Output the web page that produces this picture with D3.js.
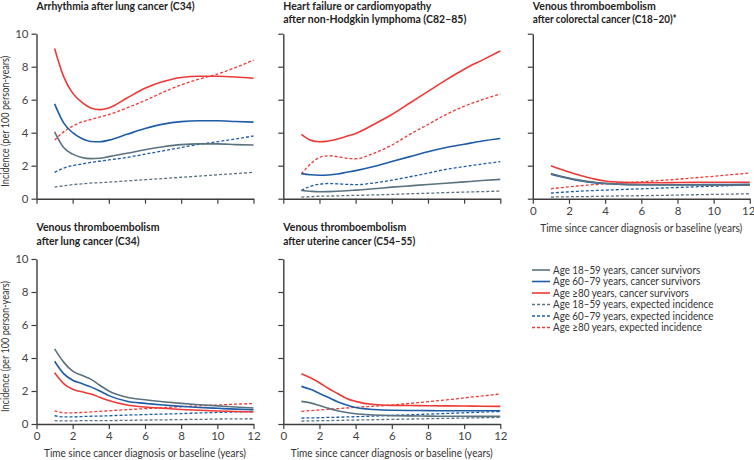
<!DOCTYPE html>
<html><head><meta charset="utf-8">
<script src="https://cdn.jsdelivr.net/npm/d3@7"></script>
<style>
body{margin:0;background:#fff;}
svg{display:block;}
text{font-family:"Lato",sans-serif;}
</style></head>
<body><svg id="chart" width="754" height="460"></svg>
<script>
// ---- data ----
const timePoints = [1,1.5,2,2.5,3,3.5,4,5,6,7,8,9,10,11,12];
const xTicks = [0,2,4,6,8,10,12];
const yTicks = [0,2,4,6,8,10];
const seriesNames = [
  "Age 18–59 years, cancer survivors",
  "Age 60–79 years, cancer survivors",
  "Age ≥80 years, cancer survivors",
  "Age 18–59 years, expected incidence",
  "Age 60–79 years, expected incidence",
  "Age ≥80 years, expected incidence"
];
const panelTitles = [
  ["Arrhythmia after lung cancer (C34)"],
  ["Heart failure or cardiomyopathy","after non-Hodgkin lymphoma (C82–85)"],
  ["Venous thromboembolism","after colorectal cancer (C18–20)*"],
  ["Venous thromboembolism","after lung cancer (C34)"],
  ["Venous thromboembolism","after uterine cancer (C54–55)"]
];
const yAxisTitle = "Incidence (per 100 person-years)";
const xAxisTitle = "Time since cancer diagnosis or baseline (years)";
// Arrhythmia after lung cancer
const arrLung_18_59   = [4.05,3.1,2.7,2.5,2.43,2.45,2.55,2.75,2.97,3.15,3.28,3.32,3.32,3.28,3.25];
const arrLung_60_79   = [5.75,4.6,4.0,3.65,3.47,3.45,3.55,3.9,4.25,4.52,4.67,4.72,4.72,4.68,4.64];
const arrLung_80      = [9.1,7.4,6.4,5.85,5.5,5.4,5.5,6.1,6.7,7.1,7.35,7.42,7.42,7.38,7.3];
const arrLung_exp18_59= [0.7,0.78,0.85,0.9,0.95,0.97,1.0,1.08,1.15,1.22,1.3,1.37,1.45,1.52,1.6];
const arrLung_exp60_79= [1.6,1.85,2.0,2.1,2.2,2.27,2.35,2.5,2.7,2.9,3.1,3.3,3.45,3.62,3.8];
const arrLung_exp80   = [3.55,4.05,4.4,4.65,4.8,4.95,5.1,5.5,5.95,6.45,6.9,7.25,7.55,7.95,8.4];
// Heart failure after NHL
const hfNhl_18_59   = [0.5,0.45,0.42,0.43,0.45,0.48,0.52,0.6,0.7,0.78,0.86,0.94,1.02,1.1,1.17];
const hfNhl_60_79   = [1.52,1.45,1.42,1.44,1.5,1.6,1.7,1.95,2.25,2.55,2.85,3.1,3.3,3.5,3.65];
const hfNhl_80      = [3.9,3.55,3.45,3.5,3.62,3.78,3.95,4.5,5.1,5.8,6.5,7.2,7.85,8.4,8.95];
const hfNhl_exp18_59= [0.1,0.12,0.15,0.16,0.17,0.19,0.2,0.23,0.26,0.3,0.33,0.37,0.4,0.43,0.46];
const hfNhl_exp60_79= [0.5,0.75,0.88,0.92,0.9,0.87,0.85,0.95,1.12,1.33,1.55,1.78,1.95,2.1,2.25];
const hfNhl_exp80   = [1.5,2.1,2.5,2.6,2.55,2.45,2.42,2.75,3.25,3.9,4.5,5.1,5.6,6.0,6.35];
// VTE after colorectal cancer
const vteCrc_18_59   = [1.52,1.38,1.25,1.14,1.05,0.98,0.93,0.87,0.85,0.84,0.83,0.83,0.82,0.82,0.82];
const vteCrc_60_79   = [1.48,1.35,1.22,1.1,1.02,0.96,0.92,0.87,0.85,0.85,0.85,0.85,0.86,0.86,0.87];
const vteCrc_80      = [2.0,1.8,1.62,1.45,1.3,1.17,1.07,0.99,0.97,0.97,0.98,0.99,1.0,1.0,1.0];
const vteCrc_exp18_59= [0.1,0.11,0.12,0.13,0.13,0.14,0.15,0.17,0.18,0.2,0.22,0.24,0.26,0.28,0.3];
const vteCrc_exp60_79= [0.34,0.38,0.42,0.45,0.48,0.5,0.52,0.56,0.6,0.64,0.68,0.72,0.76,0.8,0.85];
const vteCrc_exp80   = [0.6,0.66,0.72,0.77,0.82,0.86,0.9,0.97,1.02,1.1,1.18,1.27,1.36,1.46,1.56];
// VTE after lung cancer
const vteLung_18_59   = [4.55,3.75,3.2,2.95,2.72,2.35,2.0,1.62,1.47,1.35,1.25,1.17,1.1,1.03,0.97];
const vteLung_60_79   = [3.8,3.05,2.65,2.45,2.25,2.0,1.72,1.38,1.25,1.15,1.07,1.0,0.95,0.9,0.86];
const vteLung_80      = [3.1,2.45,2.1,1.95,1.82,1.62,1.42,1.15,1.03,0.95,0.88,0.83,0.79,0.76,0.73];
const vteLung_exp18_59= [0.2,0.19,0.19,0.2,0.2,0.21,0.21,0.22,0.24,0.25,0.27,0.28,0.3,0.31,0.32];
const vteLung_exp60_79= [0.5,0.43,0.43,0.45,0.47,0.48,0.5,0.54,0.57,0.6,0.63,0.67,0.7,0.73,0.76];
const vteLung_exp80   = [0.8,0.68,0.68,0.7,0.73,0.77,0.8,0.87,0.93,0.99,1.05,1.1,1.15,1.2,1.24];
// VTE after uterine cancer
const vteUt_18_59   = [1.37,1.28,1.12,0.95,0.8,0.7,0.62,0.55,0.51,0.49,0.48,0.47,0.47,0.46,0.46];
const vteUt_60_79   = [2.28,2.1,1.85,1.6,1.35,1.15,1.0,0.88,0.83,0.82,0.81,0.8,0.8,0.8,0.8];
const vteUt_80      = [3.05,2.8,2.5,2.15,1.85,1.55,1.37,1.18,1.13,1.12,1.11,1.1,1.09,1.08,1.07];
const vteUt_exp18_59= [0.18,0.19,0.2,0.21,0.22,0.23,0.24,0.26,0.28,0.3,0.32,0.34,0.36,0.38,0.4];
const vteUt_exp60_79= [0.36,0.37,0.38,0.4,0.41,0.43,0.44,0.48,0.52,0.56,0.6,0.64,0.68,0.72,0.76];
const vteUt_exp80   = [0.77,0.81,0.85,0.89,0.93,0.97,1.01,1.08,1.15,1.25,1.35,1.46,1.58,1.7,1.82];

// series per panel, order matches seriesNames
const panelSeries = [
  [arrLung_18_59,arrLung_60_79,arrLung_80,arrLung_exp18_59,arrLung_exp60_79,arrLung_exp80],
  [hfNhl_18_59,hfNhl_60_79,hfNhl_80,hfNhl_exp18_59,hfNhl_exp60_79,hfNhl_exp80],
  [vteCrc_18_59,vteCrc_60_79,vteCrc_80,vteCrc_exp18_59,vteCrc_exp60_79,vteCrc_exp80],
  [vteLung_18_59,vteLung_60_79,vteLung_80,vteLung_exp18_59,vteLung_exp60_79,vteLung_exp80],
  [vteUt_18_59,vteUt_60_79,vteUt_80,vteUt_exp18_59,vteUt_exp60_79,vteUt_exp80]
];

// ---- styles / layout ----
const colors = ["#5b7280","#1f5ca8","#ee3a36","#5b7280","#1f5ca8","#ee3a36"];
const dashed = [false,false,false,true,true,true];
const drawOrder = [3,4,5,1,0,2];
const panelW = 217, panelH = 165;
const layout = [
  {x:36.5, y:33.7, yLab:true,  xLab:false, xTitle:false},
  {x:283.3,y:33.7, yLab:false, xLab:false, xTitle:false},
  {x:532.8,y:33.7, yLab:false, xLab:true,  xTitle:true},
  {x:36.5, y:259,  yLab:true,  xLab:true,  xTitle:true},
  {x:283.3,y:259,  yLab:false, xLab:true,  xTitle:true}
];
const titleYs = [[9.5],[9.5,22.5],[9.5,22.5],[231,245],[231,245]];
const titleWidths = [[158],[148,183],[123,144],[123,103],[123,132]];

const svg = d3.select("#chart");
const axisColor = "#3d3d3d";

function fitWidth(sel, w){
  sel.attr("textLength", w).attr("lengthAdjust","spacingAndGlyphs");
}

layout.forEach((L,pi)=>{
  const x = d3.scaleLinear().domain([0,12]).range([L.x, L.x+panelW]);
  const y = d3.scaleLinear().domain([0,10]).range([L.y+panelH, L.y]);
  const g = svg.append("g");

  // titles
  panelTitles[pi].forEach((t,i)=>{
    const tt = g.append("text").attr("x",L.x).attr("y",titleYs[pi][i])
      .attr("font-size",10.5).attr("font-weight","bold").attr("fill","#222").text(t);
    fitWidth(tt, titleWidths[pi][i]);
  });

  // axes
  const ax = g.append("g").attr("transform",`translate(0,${L.y+panelH})`)
    .call(d3.axisBottom(x).tickValues(xTicks).tickSize(5).tickSizeOuter(0).tickPadding(3)
      .tickFormat(L.xLab? d3.format("d") : ()=>""));
  const ay = g.append("g").attr("transform",`translate(${L.x},0)`)
    .call(d3.axisLeft(y).tickValues(yTicks).tickSize(5).tickSizeOuter(0).tickPadding(3)
      .tickFormat(L.yLab? d3.format("d") : ()=>""));
  [ax,ay].forEach(a=>{
    a.select(".domain").attr("stroke",axisColor).attr("stroke-width",1.4);
    a.selectAll(".tick line").attr("stroke",axisColor).attr("stroke-width",1.2);
    a.selectAll(".tick text").attr("fill","#444").attr("font-size",11.5)
      .attr("font-family",'"Lato",sans-serif');
  });
  // keep the last x label of the right-most panel inside the picture
  if(L.x + panelW > 740){
    ax.selectAll(".tick text").filter(d=>d===12).attr("text-anchor","end").attr("dx","5");
  }

  if(L.yLab){
    const yt = g.append("text").attr("transform",`translate(9,${L.y+panelH/2+5}) rotate(-90)`)
      .attr("text-anchor","middle").attr("font-size",10.5).attr("fill","#333")
      .text(yAxisTitle);
    fitWidth(yt, 131);
  }
  if(L.xTitle){
    const xt = g.append("text").attr("x",L.x+panelW/2).attr("y",L.y+panelH+33)
      .attr("text-anchor","middle").attr("font-size",10.5).attr("fill","#333")
      .text(xAxisTitle);
    fitWidth(xt, 202);
  }

  const line = d3.line().x((d,i)=>x(timePoints[i])).y(d=>y(d)).curve(d3.curveMonotoneX);
  drawOrder.forEach(si=>{
    g.append("path").datum(panelSeries[pi][si])
      .attr("fill","none").attr("stroke",colors[si])
      .attr("stroke-width", dashed[si]?1.3:1.6)
      .attr("stroke-dasharray", dashed[si]?"3,2":null)
      .attr("d",line);
  });
});

// legend
const legX = 532, legY0 = 270, legDy = 11.5;
const legTexts = [];
seriesNames.forEach((name,i)=>{
  const yy = legY0 + i*legDy;
  svg.append("line").attr("x1",legX).attr("x2",legX+18).attr("y1",yy).attr("y2",yy)
    .attr("stroke",colors[i]).attr("stroke-width",dashed[i]?1.3:1.6)
    .attr("stroke-dasharray",dashed[i]?"3,2":null);
  legTexts.push(svg.append("text").attr("x",legX+21).attr("y",yy+3.5)
    .attr("font-size",10.5).attr("fill","#333").text(name));
});
// scale legend labels to the reference's condensed width
const refNat = legTexts[5].node().getComputedTextLength();
const k = 149 / refNat;
legTexts.forEach(t=>fitWidth(t, t.node().getComputedTextLength()*k));
</script></body></html>
